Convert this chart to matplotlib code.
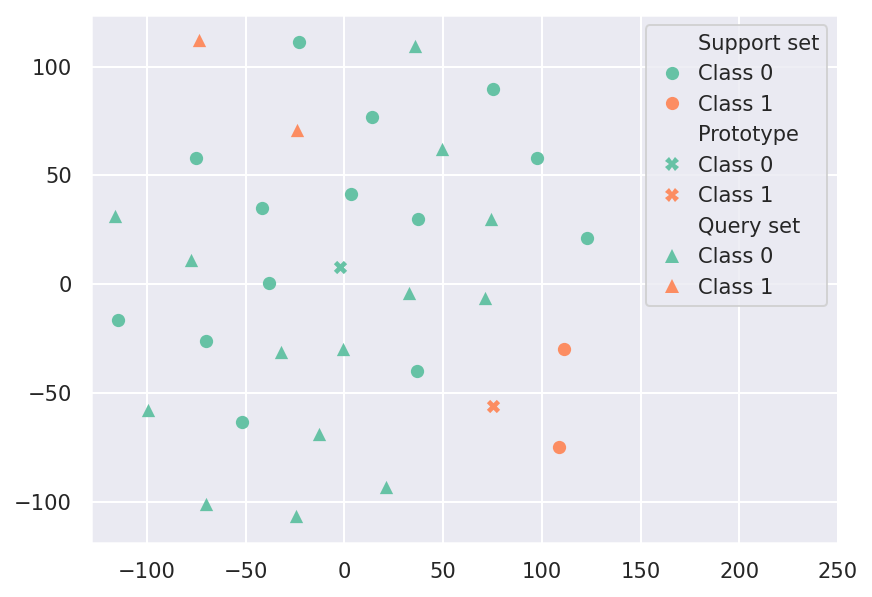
import matplotlib
matplotlib.use("Agg")
import matplotlib.pyplot as plt
from matplotlib.lines import Line2D
import seaborn as sns

sns.set_theme(style="darkgrid")

# support set, class 0 / class 1
sup0_x = [-22.8, 75.1, 14.2, -75.1, 97.4, 3.5, -41.6, 37.5, 122.7, -38.0, -114.6, -70.0, 37.0, -51.7]
sup0_y = [111.3, 89.7, 76.8, 57.9, 57.9, 41.4, 34.9, 29.9, 21.1, 0.5, -16.6, -26.2, -40.0, -63.4]
sup1_x = [111.1, 108.5]
sup1_y = [-29.9, -74.9]

# prototypes
proto_x = [-2.0, 75.1]
proto_y = [7.8, -56.1]

# query set
qry0_x = [36.0, 49.2, -116.1, 74.0, -77.6, 32.5, 71.0, -31.9, -0.5, -99.4, -12.7, 21.3, -70.0, -24.3]
qry0_y = [109.4, 62.1, 31.3, 29.9, 11.0, -4.1, -6.4, -31.3, -29.9, -57.9, -69.0, -93.3, -101.1, -106.7]
qry1_x = [-73.5, -23.8]
qry1_y = [112.2, 70.8]

c0, c1 = sns.color_palette("Set2")[:2]

fig, ax = plt.subplots(figsize=(8.72 / 1.44, 5.97 / 1.44), dpi=144)
fig.subplots_adjust(left=0.104, right=0.961, top=0.975, bottom=0.091)

ms = 44
ax.scatter(sup0_x, sup0_y, color=c0, marker="o", s=ms, linewidth=0)
ax.scatter(sup1_x, sup1_y, color=c1, marker="o", s=ms, linewidth=0)
ax.scatter(proto_x[:1], proto_y[:1], color=c0, marker="X", s=ms, linewidth=0)
ax.scatter(proto_x[1:], proto_y[1:], color=c1, marker="X", s=ms, linewidth=0)
ax.scatter(qry0_x, qry0_y, color=c0, marker="^", s=ms, linewidth=0)
ax.scatter(qry1_x, qry1_y, color=c1, marker="^", s=ms, linewidth=0)

ax.set_xlim(-128.5, 250)
ax.set_ylim(-118.8, 123.8)
ax.set_xticks([-100, -50, 0, 50, 100, 150, 200, 250])
ax.set_yticks([-100, -50, 0, 50, 100])
ax.tick_params(labelsize=10.5)

def h(marker, color):
    return Line2D([], [], marker=marker, color=color, linestyle="", markersize=6.6,
                  markeredgewidth=0)

blank = Line2D([], [], linestyle="", marker="")
handles = [blank, h("o", c0), h("o", c1),
           blank, h("X", c0), h("X", c1),
           blank, h("^", c0), h("^", c1)]
labels = ["Support set", "Class 0", "Class 1",
          "Prototype", "Class 0", "Class 1",
          "Query set", "Class 0", "Class 1"]
ax.legend(handles, labels, loc="upper right", fontsize=10.5, borderaxespad=0.5,
          handletextpad=0.4, handlelength=1.65, labelspacing=0.5)

fig.savefig("out.png", dpi=144)
